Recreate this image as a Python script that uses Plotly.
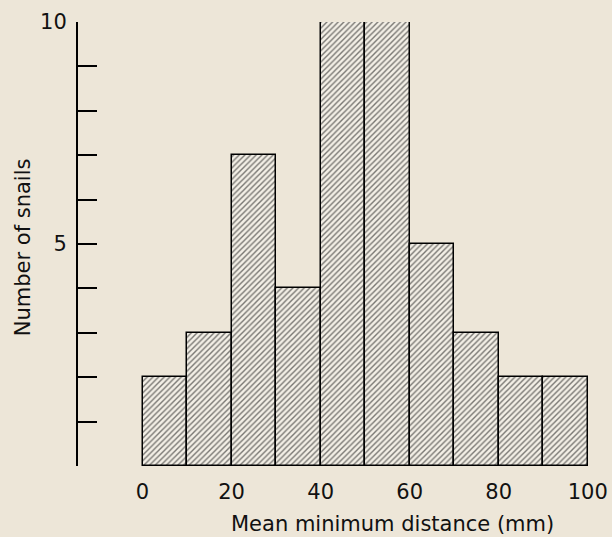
import plotly.graph_objects as go

bin_left = [0, 10, 20, 30, 40, 50, 60, 70, 80, 90]
counts = [2, 3, 7, 4, 10, 10, 5, 3, 2, 2]
bin_width = 10
x_tick_vals = [0, 20, 40, 60, 80, 100]
x_tick_text = ["0", "20", "40", "60", "80", "100"]
y_tick_vals = [0, 1, 2, 3, 4, 5, 6, 7, 8, 9, 10]
y_tick_text = ["", "", "", "", "", "5", "", "", "", "", "10"]

bg = "#ede6d8"
font = "DejaVu Sans, Liberation Sans, sans-serif"
fs = 21

centers = [b + bin_width / 2 for b in bin_left]

fig = go.Figure(go.Bar(
    x=centers, y=counts, width=bin_width,
    marker=dict(
        color=bg,
        line=dict(color="black", width=1.5),
        pattern=dict(shape="/", fgcolor="#000", bgcolor="#f3efe6", size=4, solidity=0.35),
    ),
))

fig.update_layout(
    width=612, height=537,
    paper_bgcolor=bg, plot_bgcolor=bg,
    margin=dict(l=78, r=4, t=22, b=71),
    showlegend=False,
    font=dict(family=font, size=fs, color="#111"),
    bargap=0,
)
fig.update_xaxes(
    range=[-14.5, 104.1], showgrid=False, zeroline=False, showline=False,
    tickvals=x_tick_vals, ticktext=x_tick_text, ticks="",
    ticklabelstandoff=11,
    tickfont=dict(size=fs),
)
fig.update_yaxes(
    range=[0, 10], showgrid=False, zeroline=False, showline=True,
    linecolor="black", linewidth=2,
    tickvals=y_tick_vals, ticktext=y_tick_text,
    ticks="inside", ticklen=19, tickwidth=2, tickcolor="black",
    ticklabelstandoff=5,
    tickfont=dict(size=fs),
)
fig.add_annotation(
    text="Mean minimum distance (mm)", xref="paper", yref="paper",
    x=(394 - 78) / 530, y=-(524 - 466) / 444, showarrow=False,
    xanchor="center", yanchor="middle", font=dict(size=fs),
)
fig.add_annotation(
    text="Number of snails", xref="paper", yref="paper",
    x=-(78 - 23) / 530, y=(466 - 247) / 444, showarrow=False, textangle=-90,
    xanchor="center", yanchor="middle", font=dict(size=fs),
)

fig.write_html(
    "out.html",
    config={"displayModeBar": False},
    post_script="document.body.style.margin='0';document.body.style.background='#ede6d8';",
)
